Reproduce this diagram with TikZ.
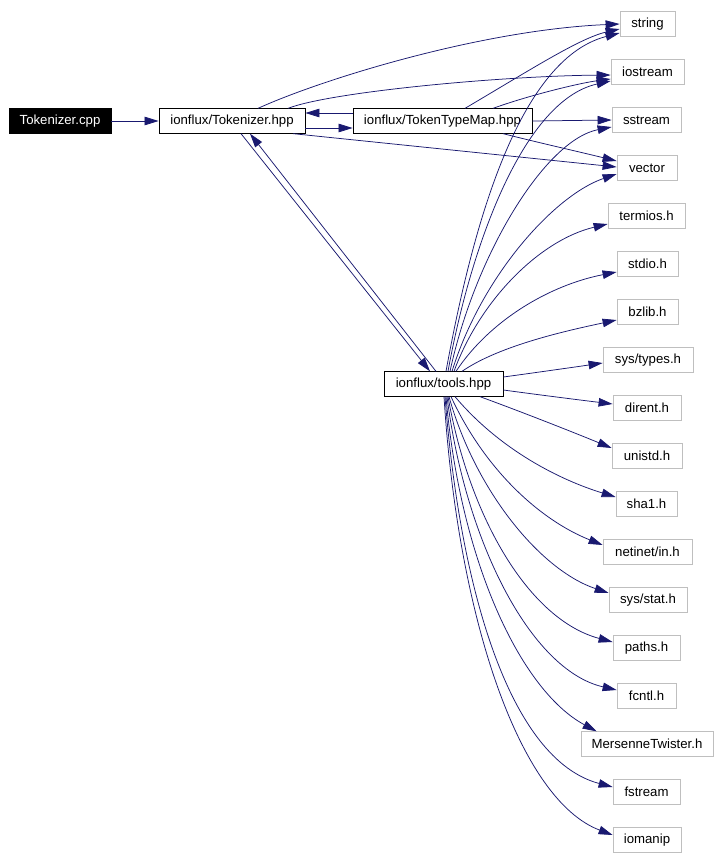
\documentclass[tikz,border=0pt]{standalone}
\usepackage{fontspec}
\setmainfont{Liberation Sans}
\usetikzlibrary{arrows.meta,calc}
\definecolor{edgec}{HTML}{191970}
\definecolor{grayb}{HTML}{BFBFBF}
\begin{document}
\begin{tikzpicture}[x=1pt,y=-1pt,
  box/.style={draw=black,line width=0.8pt,minimum height=24.5pt,inner sep=0pt,font=\fontsize{13.2}{15}\selectfont},
  ext/.style={box,draw=grayb},
  root/.style={box,fill=black,text=white},
  e/.style={draw=edgec,line width=0.75pt,-{Triangle[length=14pt,width=8.5pt]}}]
\path[use as bounding box] (0,0) rectangle (720,857);
\fill[white] (0,0) rectangle (720,857);
% main nodes
\node[root,minimum width=102pt] (cpp) at (60,121) {Tokenizer.cpp};
\node[box,minimum width=146pt] (thpp) at (232,121) {ionflux/Tokenizer.hpp};
\node[box,minimum width=179pt] (ttm) at (442.5,121) {ionflux/TokenTypeMap.hpp};
\node[box,minimum width=119pt] (tools) at (443.5,384) {ionflux/tools.hpp};
% headers
\node[ext,minimum width=55pt] (string) at (647.5,24) {string};
\node[ext,minimum width=73pt] (iostream) at (647.5,72) {iostream};
\node[ext,minimum width=69pt] (sstream) at (646.5,120) {sstream};
\node[ext,minimum width=60pt] (vector) at (647,168) {vector};
\node[ext,minimum width=77pt] (termios) at (646.5,216) {termios.h};
\node[ext,minimum width=61pt] (stdio) at (647.5,264) {stdio.h};
\node[ext,minimum width=61pt] (bzlib) at (647.5,312) {bzlib.h};
\node[ext,minimum width=90pt] (systypes) at (648,360) {sys/types.h};
\node[ext,minimum width=68pt] (dirent) at (647,408) {dirent.h};
\node[ext,minimum width=70pt] (unistd) at (647,456) {unistd.h};
\node[ext,minimum width=61pt] (sha1) at (646.5,504) {sha1.h};
\node[ext,minimum width=89pt] (netinet) at (647.5,552) {netinet/in.h};
\node[ext,minimum width=78pt] (sysstat) at (648,600) {sys/stat.h};
\node[ext,minimum width=67pt] (paths) at (646.5,648) {paths.h};
\node[ext,minimum width=59pt] (fcntl) at (646.5,696) {fcntl.h};
\node[ext,minimum width=132pt] (mt) at (647,744) {MersenneTwister.h};
\node[ext,minimum width=67pt] (fstream) at (646.5,792) {fstream};
\node[ext,minimum width=68pt] (iomanip) at (647,840) {iomanip};
% edges from Tokenizer.cpp / Tokenizer.hpp
\draw[e] (cpp.east) -- (thpp.west);
\draw[e] ($(thpp.north)+(26,0)$) .. controls (320,80) and (480,30) .. (string.west);
\draw[e] ($(thpp.north)+(56,0)$) .. controls (330,92) and (500,76) .. ($(iostream.west)+(0,3)$);
\draw[e] ($(thpp.east)+(0,7)$) -- ($(ttm.west)+(0,7)$);
\draw[e] ($(ttm.west)+(0,-8)$) -- ($(thpp.east)+(0,-8)$);
\draw[e] ($(thpp.south)+(61,0)$) -- ($(vector.west)+(0,-1)$);
\draw[e] ($(thpp.south)+(9,0)$) -- ($(tools.north)+(-13.5,0)$);
\draw[e] ($(tools.north)+(-7.5,0)$) -- ($(thpp.south)+(18,0)$);
% edges from TokenTypeMap
\draw[e] ($(ttm.north)+(22.5,0)$) .. controls (530,70) and (580,38) .. ($(string.west)+(0,5)$);
\draw[e] ($(ttm.north)+(50.5,0)$) .. controls (530,95) and (580,83) .. ($(iostream.west)+(0,7)$);
\draw[e] (ttm.east) -- (sstream.west);
\draw[e] ($(ttm.south)+(60.5,0)$) .. controls (540,143) and (580,152) .. ($(vector.west)+(0,-7)$);
% edges from tools
\draw[e] ($(tools.north)+(2.5,0)$) .. controls (470,240) and (515,60) .. ($(string.west)+(0,9)$);
\draw[e] ($(tools.north)+(4.5,0)$) .. controls (472,240) and (525,100) .. ($(iostream.west)+(0,9)$);
\draw[e] ($(tools.north)+(6.5,0)$) .. controls (475,255) and (545,140) .. ($(sstream.west)+(0,7)$);
\draw[e] ($(tools.north)+(8.5,0)$) .. controls (482,275) and (555,195) .. ($(vector.west)+(0,6)$);
\draw[e] ($(tools.north)+(10.5,0)$) .. controls (480,300) and (540,240) .. ($(termios.west)+(0,8)$);
\draw[e] ($(tools.north)+(12.5,0)$) .. controls (490,320) and (550,285) .. ($(stdio.west)+(0,8)$);
\draw[e] ($(tools.north)+(18.5,0)$) .. controls (500,345) and (570,330) .. ($(bzlib.west)+(0,8)$);
\draw[e] ($(tools.east)+(0,-7)$) .. controls (540,372) and (575,367) .. ($(systypes.west)+(0,3)$);
\draw[e] ($(tools.east)+(0,6)$) .. controls (540,395) and (580,400) .. ($(dirent.west)+(0,-4)$);
\draw[e] ($(tools.south)+(36.5,0)$) .. controls (530,415) and (580,435) .. ($(unistd.west)+(0,-8)$);
\draw[e] ($(tools.south)+(11.5,0)$) .. controls (500,450) and (560,480) .. ($(sha1.west)+(0,-7)$);
\draw[e] ($(tools.south)+(7.5,0)$) .. controls (485,470) and (540,520) .. ($(netinet.west)+(0,-7)$);
\draw[e] ($(tools.south)+(5.5,0)$) .. controls (475,490) and (540,570) .. ($(sysstat.west)+(0,-7)$);
\draw[e] ($(tools.south)+(4.5,0)$) .. controls (470,520) and (530,620) .. ($(paths.west)+(0,-6)$);
\draw[e] ($(tools.south)+(3.5,0)$) .. controls (465,540) and (530,670) .. ($(fcntl.west)+(0,-6)$);
\draw[e] ($(tools.south)+(2.5,0)$) .. controls (460,560) and (520,690) .. ($(mt.north west)+(16,0)$);
\draw[e] ($(tools.south)+(1.5,0)$) .. controls (460,590) and (510,760) .. ($(fstream.west)+(0,-5)$);
\draw[e] ($(tools.south)+(0.5,0)$) .. controls (458,620) and (520,800) .. ($(iomanip.west)+(0,-5)$);
\end{tikzpicture}
\end{document}
